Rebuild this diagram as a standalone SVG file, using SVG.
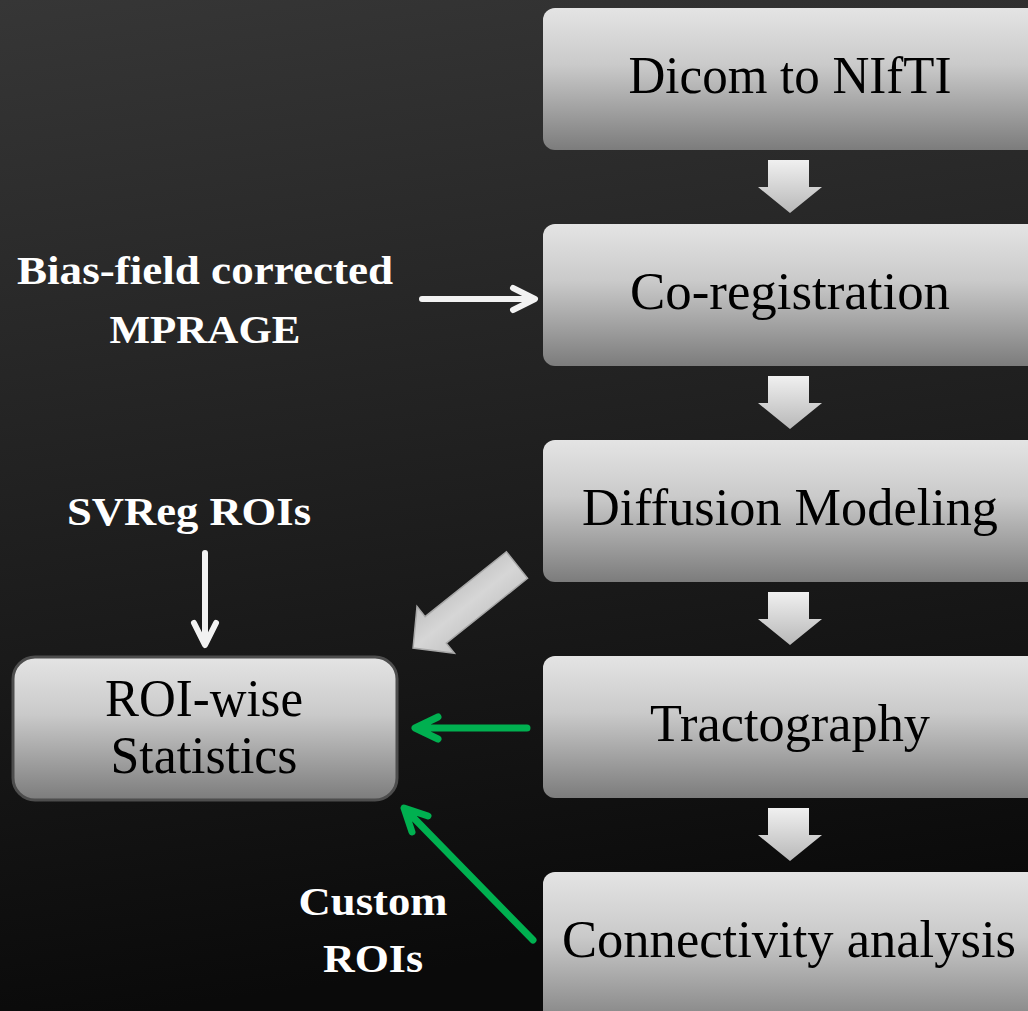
<svg xmlns="http://www.w3.org/2000/svg" width="1028" height="1011" viewBox="0 0 1028 1011">
<defs>
<linearGradient id="bg" x1="0" y1="0" x2="0.15" y2="1">
<stop offset="0" stop-color="#363636"/>
<stop offset="1" stop-color="#0a0a0a"/>
</linearGradient>
<linearGradient id="box" x1="0" y1="0" x2="0" y2="1">
<stop offset="0" stop-color="#e4e4e4"/>
<stop offset="0.4" stop-color="#cacaca"/>
<stop offset="1" stop-color="#7c7c7c"/>
</linearGradient>
<linearGradient id="blk" x1="0" y1="0" x2="0" y2="1">
<stop offset="0" stop-color="#f0f0f0"/>
<stop offset="1" stop-color="#b8b8b8"/>
</linearGradient>
<linearGradient id="diag" x1="0" y1="0" x2="0" y2="1">
<stop offset="0" stop-color="#c4c4c4"/>
<stop offset="0.5" stop-color="#d6d6d6"/>
<stop offset="1" stop-color="#c0c0c0"/>
</linearGradient>
<style>
.box{fill:url(#box);}
.bt{font-family:"Liberation Serif","Times New Roman",serif;font-size:52px;fill:#000;text-anchor:middle;}
.lb{font-family:"Liberation Serif","Times New Roman",serif;font-size:41px;font-weight:bold;fill:#fff;text-anchor:middle;}
.w{stroke:#f2f2f2;stroke-width:6;fill:none;stroke-linecap:round;stroke-linejoin:round;}
.g{stroke:#00b050;stroke-width:7;fill:none;stroke-linecap:round;stroke-linejoin:round;}
.blk{fill:url(#blk);}
</style>
</defs>
<rect width="1028" height="1011" fill="url(#bg)"/>

<g id="n1"><rect class="box" x="543" y="8" width="510" height="142" rx="12"/><text class="bt" x="790" y="93" textLength="323" lengthAdjust="spacingAndGlyphs">Dicom to NIfTI</text></g>
<g id="n2"><rect class="box" x="543" y="224" width="510" height="142" rx="12"/><text class="bt" x="790" y="309" textLength="320" lengthAdjust="spacingAndGlyphs">Co-registration</text></g>
<g id="n3"><rect class="box" x="543" y="440" width="510" height="142" rx="12"/><text class="bt" x="790" y="525" textLength="416" lengthAdjust="spacingAndGlyphs">Diffusion Modeling</text></g>
<g id="n4"><rect class="box" x="543" y="656" width="510" height="142" rx="12"/><text class="bt" x="790" y="741" textLength="280" lengthAdjust="spacingAndGlyphs">Tractography</text></g>
<g id="n5"><rect class="box" x="543" y="872" width="510" height="160" rx="12"/><text class="bt" x="789" y="957" textLength="454" lengthAdjust="spacingAndGlyphs">Connectivity analysis</text></g>
<g id="n6"><rect class="box" x="13" y="657" width="384" height="143" rx="22" stroke="#4d4d4d" stroke-width="3"/><text class="bt" x="204" y="716" textLength="198" lengthAdjust="spacingAndGlyphs">ROI-wise</text><text class="bt" x="204" y="773" textLength="187" lengthAdjust="spacingAndGlyphs">Statistics</text></g>

<g id="l1"><text class="lb" x="205" y="284" textLength="376" lengthAdjust="spacingAndGlyphs">Bias-field corrected</text><text class="lb" x="205" y="343" textLength="191" lengthAdjust="spacingAndGlyphs">MPRAGE</text></g>
<g id="l2"><text class="lb" x="189" y="525" textLength="244" lengthAdjust="spacingAndGlyphs">SVReg ROIs</text></g>
<g id="l3"><text class="lb" x="373" y="915" textLength="149" lengthAdjust="spacingAndGlyphs">Custom</text><text class="lb" x="373" y="972" textLength="100" lengthAdjust="spacingAndGlyphs">ROIs</text></g>

<g id="connectors">
<polygon class="blk" points="768,160 809,160 809,187 822,187 790,213 758,187 768,187"/>
<polygon class="blk" points="768,376 809,376 809,403 822,403 790,429 758,403 768,403"/>
<polygon class="blk" points="768,592 809,592 809,619 822,619 790,645 758,619 768,619"/>
<polygon class="blk" points="768,808 809,808 809,835 822,835 790,861 758,835 768,835"/>
<polygon transform="translate(517,565) rotate(141.4)" points="0,-17 104,-17 104,-30 133,0 104,30 104,17 0,17" fill="url(#diag)" stroke="#a8a8a8" stroke-width="1.5"/>
<path class="w" d="M422,299 L533,299 M513,288 L535,299 L513,310"/>
<path class="w" d="M205,553 L205,643 M194,623 L205,645 L216,623"/>
<path class="g" d="M527,728 L416,728 M438,717 L415,728 L438,739"/>
<path class="g" d="M533,940 L406,810 M428,816 L404,808 L412,832"/>
</g>
</svg>
